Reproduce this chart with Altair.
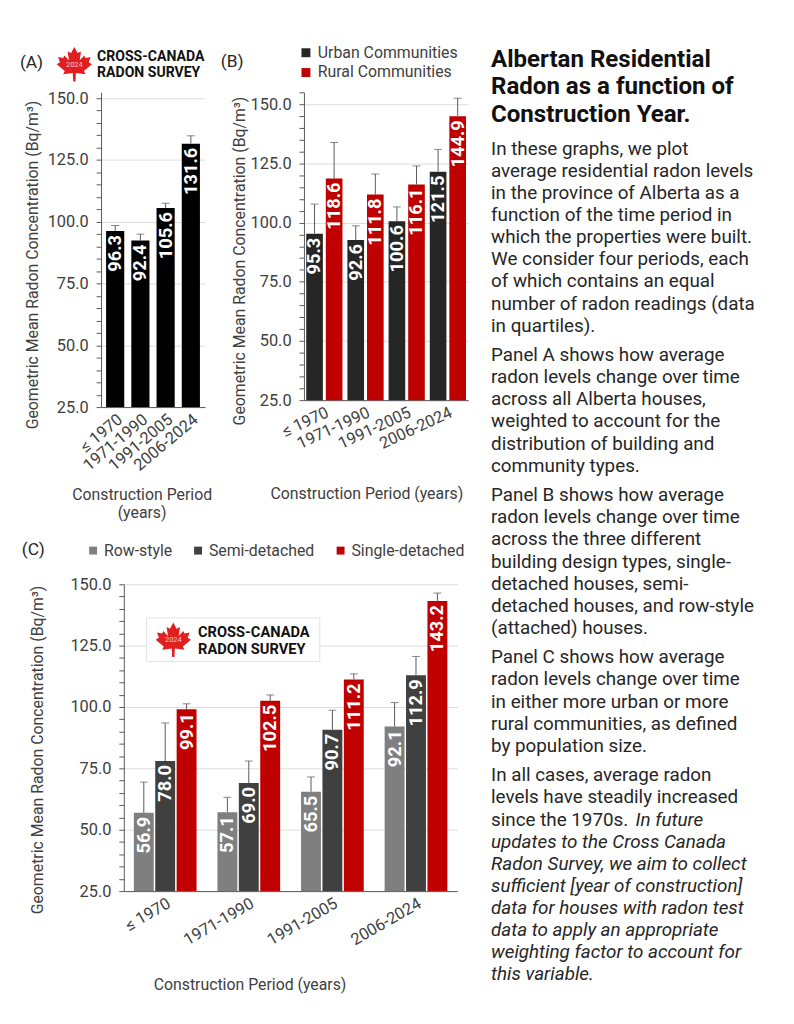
import altair as alt
import pandas as pd

# ---------------- data ----------------
periods = ["≤ 1970", "1971-1990", "1991-2005", "2006-2024"]

a_mean = [96.3, 92.4, 105.6, 131.6]
a_upper = [98.5, 95.0, 107.5, 134.8]

b_series = ["Urban Communities", "Rural Communities"]
b_urban = [95.3, 92.6, 100.6, 121.5]
b_urban_upper = [107.8, 98.6, 106.6, 130.9]
b_rural = [118.6, 111.8, 116.1, 144.9]
b_rural_upper = [133.8, 120.5, 123.9, 152.5]

c_series = ["Row-style", "Semi-detached", "Single-detached"]
c_row = [56.9, 57.1, 65.5, 92.1]
c_row_upper = [69.4, 63.2, 71.5, 101.8]
c_semi = [78.0, 69.0, 90.7, 112.9]
c_semi_upper = [93.5, 78.0, 98.7, 120.6]
c_single = [99.1, 102.5, 111.2, 143.2]
c_single_upper = [101.3, 104.9, 113.5, 146.4]

y_title = "Geometric Mean Radon Concentration (Bq/m³)"
x_title = "Construction Period (years)"

title_lines = ["Albertan Residential", "Radon as a function of", "Construction Year."]
paragraphs = [
    ["In these graphs, we plot", "average residential radon levels",
     "in the province of Alberta as a", "function of the time period in",
     "which the properties were built.", "We consider four periods, each",
     "of which contains an equal", "number of radon readings (data", "in quartiles)."],
    ["Panel A shows how average", "radon levels change over time",
     "across all Alberta houses,", "weighted to account for the",
     "distribution of building and", "community types."],
    ["Panel B shows how average", "radon levels change over time",
     "across the three different", "building design types, single-",
     "detached houses, semi-", "detached houses, and row-style", "(attached) houses."],
    ["Panel C shows how average", "radon levels change over time",
     "in either more urban or more", "rural communities, as defined",
     "by population size."],
    ["In all cases, average radon", "levels have steadily increased", "since the 1970s."],
]
italic_lines = ["In future", "updates to the Cross Canada", "Radon Survey, we aim to collect",
                "sufficient [year of construction]", "data for houses with radon test",
                "data to apply an appropriate", "weighting factor to account for",
                "this variable."]

# ---------------- tables ----------------
dfA = pd.DataFrame({"period": periods, "mean": a_mean, "upper": a_upper})
dfB = pd.DataFrame({
    "period": periods * 2,
    "series": [b_series[0]] * 4 + [b_series[1]] * 4,
    "mean": b_urban + b_rural,
    "upper": b_urban_upper + b_rural_upper,
})
dfC = pd.DataFrame({
    "period": periods * 3,
    "series": [c_series[0]] * 4 + [c_series[1]] * 4 + [c_series[2]] * 4,
    "mean": c_row + c_semi + c_single,
    "upper": c_row_upper + c_semi_upper + c_single_upper,
})

W, H = 786, 1008
GRAY = "#595959"
TXT = "#404040"


def yaxis(off, tx, ty, top):
    return alt.Axis(
        orient="left", offset=off, values=list(range(25, top + 1, 5)),
        labelExpr="datum.value % 25 === 0 ? format(datum.value, '.1f') : ''",
        labelOverlap=False, grid=True, gridColor="#dcdcdc", gridWidth=1,
        gridOpacity={"condition": {"test": "datum.value % 25 === 0", "value": 1}, "value": 0},
        tickSize=5, tickColor=GRAY, domainColor=GRAY,
        labelFontSize=16.5, labelColor=TXT, labelPadding=8,
        title=y_title, titleFontSize=16, titleFontWeight="normal", titleColor=TXT,
        titleX=tx, titleY=ty, titleBaseline="middle",
    )


def xaxis(off, angle, title, tx, ty):
    return alt.Axis(
        orient="bottom", offset=off, labelAngle=angle, labelAlign="right",
        labelBaseline="top", ticks=False, domainColor=GRAY, labelFontSize=16.5,
        labelColor=TXT, labelPadding=4, labelOverlap=False, grid=False,
        title=title, titleX=tx, titleY=ty, titleBaseline="top", titleFontSize=16,
        titleFontWeight="normal", titleColor=TXT, titleLineHeight=19,
    )


def panel(df, xscale, yscale, xax, yax, color, xoff=None, cap=8):
    x = alt.X("period:N", sort=periods, scale=xscale, axis=xax)
    ym = alt.Y("mean:Q", scale=yscale, axis=yax)
    yu = alt.Y("upper:Q", scale=yscale, axis=yax)
    enc = {"x": x}
    if xoff is not None:
        enc["xOffset"] = xoff
    bars = alt.Chart(df).mark_bar().encode(y=ym, y2=alt.datum(25), color=color, **enc)
    rules = alt.Chart(df).mark_rule(color=GRAY, strokeWidth=1).encode(y=ym, y2="upper:Q", **enc)
    caps = alt.Chart(df).mark_tick(color=GRAY, thickness=1, size=cap).encode(y=yu, **enc)
    labels = alt.Chart(df).mark_text(
        angle=270, align="right", baseline="middle", dx=-4, color="white",
        fontWeight="bold", fontSize=18.5,
    ).encode(y=ym, text=alt.Text("mean:Q", format=".1f"), **enc)
    return alt.layer(bars, rules, caps, labels)


# Panel A
panelA = panel(
    dfA,
    alt.Scale(range=[94, 199], paddingInner=0.28, paddingOuter=0.2),
    alt.Scale(domain=[25, 152.4], range=[398, 80], nice=False, zero=False),
    xaxis(398 - H, -40, ["Construction Period", "(years)"], 135, 80),
    yaxis(-94, -69, 254, 150),
    alt.value("#000000"),
)

# Panel B
panelB = panel(
    dfB,
    alt.Scale(range=[299, 465], paddingInner=0.12, paddingOuter=0.055),
    alt.Scale(domain=[25, 155], range=[391, 80], nice=False, zero=False),
    xaxis(391 - H, -25, x_title, 362, 86),
    yaxis(-299, -65, 250, 155),
    alt.Color("series:N", sort=b_series,
              scale=alt.Scale(domain=b_series, range=["#262626", "#C00000"]),
              legend=alt.Legend(orient="none", legendX=293, legendY=32, direction="vertical",
                                title=None, symbolType="square", symbolSize=81,
                                symbolStrokeWidth=0, labelFontSize=16, labelColor=TXT,
                                rowPadding=4, labelOffset=4)),
    xoff=alt.XOffset("series:N", sort=b_series, scale=alt.Scale(paddingInner=0.15)),
)

# Panel C
panelC = panel(
    dfC,
    alt.Scale(range=[117, 454], paddingInner=0.25, paddingOuter=0.12),
    alt.Scale(domain=[25, 150], range=[887, 577], nice=False, zero=False),
    xaxis(887 - H, -30, x_title, 244, 86),
    yaxis(-117, -87, 744, 150),
    alt.Color("series:N", sort=c_series,
              scale=alt.Scale(domain=c_series, range=["#7F7F7F", "#404040", "#C00000"]),
              legend=alt.Legend(orient="none", legendX=78, legendY=535, direction="horizontal",
                                title=None, symbolType="square", symbolSize=64,
                                symbolStrokeWidth=0, labelFontSize=16, labelColor=TXT,
                                columnPadding=18, labelOffset=3)),
    xoff=alt.XOffset("series:N", sort=c_series, scale=alt.Scale(paddingInner=0.07)),
)

# ---------------- decorations ----------------
px = lambda f: alt.X(f + ":Q", scale=None, axis=None)
py = lambda f: alt.Y(f + ":Q", scale=None, axis=None)

tags = pd.DataFrame({"t": ["(A)", "(B)", "(C)"], "x": [12, 215, 14], "y": [50, 49, 542]})
tag_layer = alt.Chart(tags).mark_text(align="left", baseline="middle", fontSize=17.5,
                                      color="#262626").encode(x=px("x"), y=py("y"), text="t:N")

box = pd.DataFrame({"x": [140], "x2": [315], "y": [611], "y2": [655]})
box_layer = alt.Chart(box).mark_rect(fill="white", stroke="#e3e3e3", strokeWidth=1).encode(
    x=px("x"), x2="x2:Q", y=py("y"), y2="y2:Q")

leaf_path = ("M0,-1L0.17,-0.68L0.35,-0.76L0.28,-0.3L0.52,-0.55L0.58,-0.42L0.85,-0.48"
             "L0.75,-0.2L0.92,-0.1L0.5,0.25L0.58,0.42L0.08,0.36L0.06,0.8L-0.06,0.8"
             "L-0.08,0.36L-0.58,0.42L-0.5,0.25L-0.92,-0.1L-0.75,-0.2L-0.85,-0.48"
             "L-0.58,-0.42L-0.52,-0.55L-0.28,-0.3L-0.35,-0.76L-0.17,-0.68Z")
leaves = pd.DataFrame({"x": [67, 167], "y": [53.5, 635]})
leaf_layer = alt.Chart(leaves).mark_point(shape=leaf_path, filled=True, size=1500,
                                          color="#E0201F", opacity=1, strokeWidth=0).encode(
    x=px("x"), y=py("y"))
yr = pd.DataFrame({"t": ["2024", "2024"], "x": [67, 167], "y": [52, 633]})
yr_layer = alt.Chart(yr).mark_text(fontSize=7.5, color="#f6caca", baseline="middle").encode(
    x=px("x"), y=py("y"), text="t:N")
logo_txt = pd.DataFrame({
    "t": ["CROSS-CANADA", "RADON SURVEY", "CROSS-CANADA", "RADON SURVEY"],
    "x": [90, 90, 192, 192], "y": [44, 61, 626, 643], "fs": [14.2, 14.2, 14.8, 14.8]})
logo_layer = alt.Chart(logo_txt).mark_text(align="left", baseline="middle", fontWeight="bold",
                                           color="#111111").encode(
    x=px("x"), y=py("y"), text="t:N", size=alt.Size("fs:Q", scale=None, legend=None))

# text column
TX, LH, PG = 488, 22.35, 7.4
t_rows = [{"t": s, "x": TX, "y": 47 + i * 28} for i, s in enumerate(title_lines)]
b_rows = []
li = 0
for p, lines in enumerate(paragraphs):
    for s in lines:
        b_rows.append({"t": s, "x": TX, "y": 137 + li * LH + p * PG})
        li += 1
i_rows = []
li_it = li - 1
for k, s in enumerate(italic_lines):
    i_rows.append({"t": s, "x": TX + (146 if k == 0 else 0),
                   "y": 137 + (li_it + k) * LH + 4 * PG})

title_layer = alt.Chart(pd.DataFrame(t_rows)).mark_text(
    align="left", baseline="middle", fontSize=24.3, fontWeight="bold", color="#111111").encode(
    x=px("x"), y=py("y"), text="t:N")
body_layer = alt.Chart(pd.DataFrame(b_rows)).mark_text(
    align="left", baseline="middle", fontSize=19, color="#262626").encode(
    x=px("x"), y=py("y"), text="t:N")
ital_layer = alt.Chart(pd.DataFrame(i_rows)).mark_text(
    align="left", baseline="middle", fontSize=19, fontStyle="italic", color="#262626").encode(
    x=px("x"), y=py("y"), text="t:N")

chart = alt.layer(
    panelA, panelB, panelC, box_layer, leaf_layer, yr_layer, logo_layer, tag_layer,
    title_layer, body_layer, ital_layer,
).resolve_scale(
    x="independent", y="independent", color="independent", xOffset="independent", size="independent"
).properties(
    width=W, height=H, autosize=alt.AutoSizeParams(type="none"), padding=0
).configure(font="Roboto").configure_view(stroke=None)

chart.save("out.html", embed_options={"renderer": "svg", "actions": False})
